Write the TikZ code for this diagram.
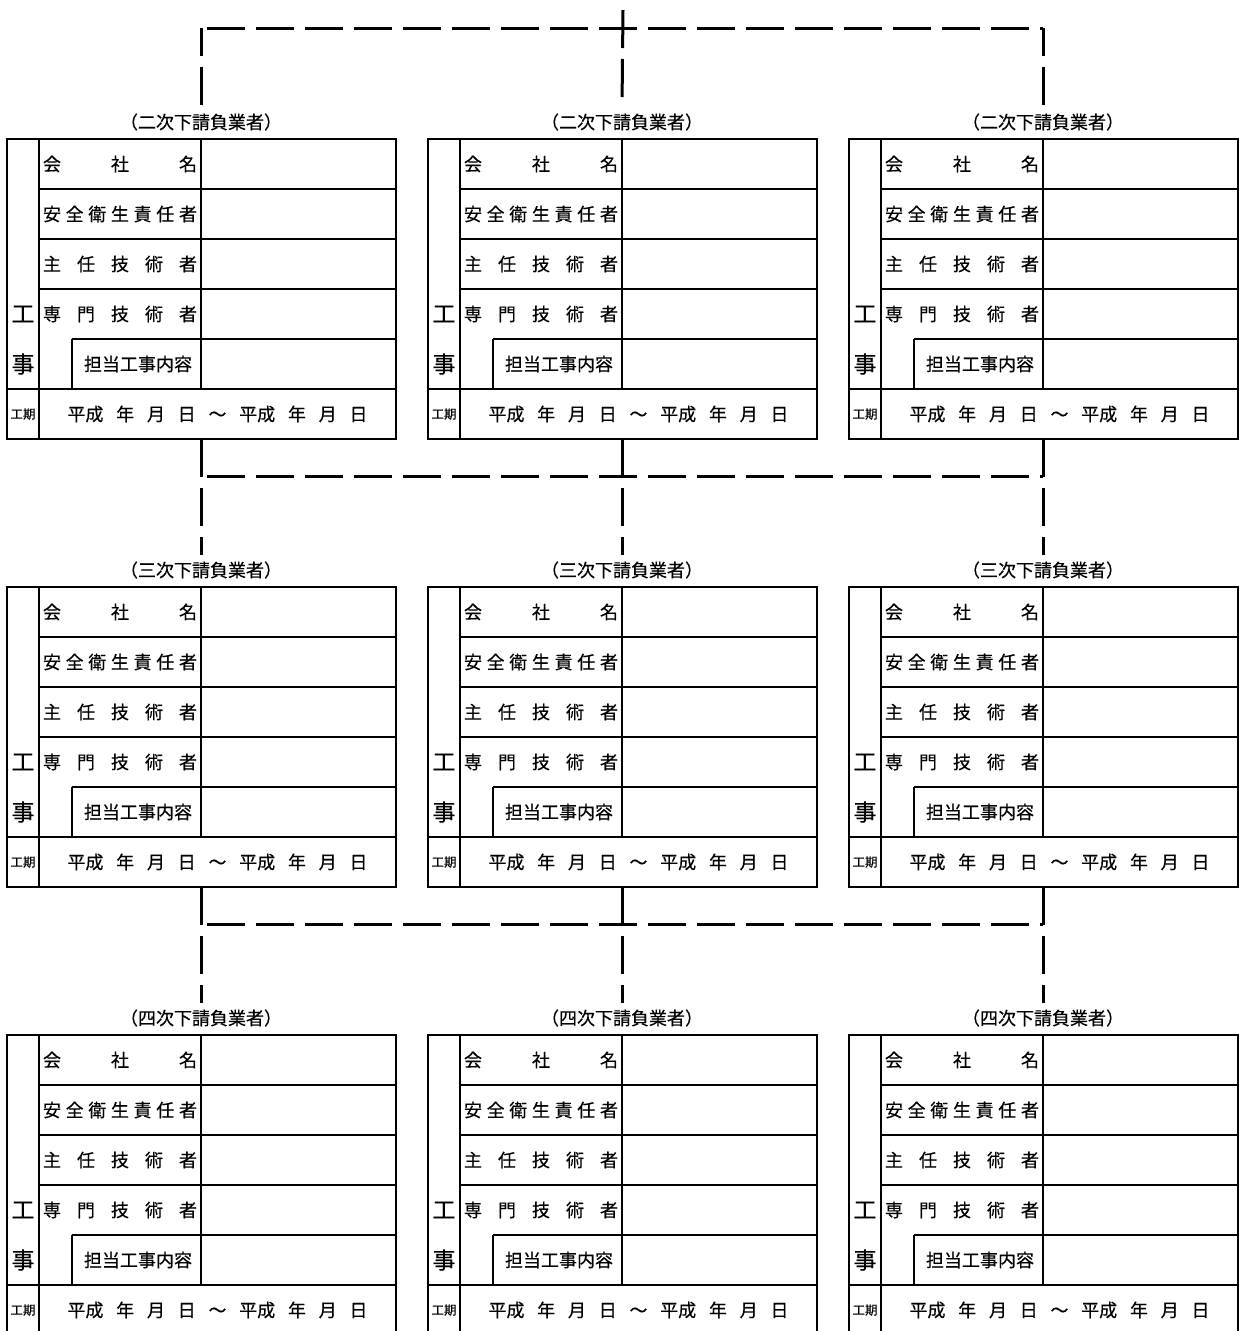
\documentclass[tikz,border=0pt]{standalone}
\usepackage{fontspec}
\setmainfont{Noto Sans CJK JP}[FakeBold=0.4]
\usetikzlibrary{positioning,calc}

\begin{document}
\begin{tikzpicture}[
        x=1pt, y=-1pt,
        frame/.style={line width=2pt},
        bus/.style={line width=3pt, dash pattern=on 38pt off 11pt},
        title/.style={font=\fontsize{18}{18}\selectfont, inner xsep=0pt, inner ysep=6pt},
        label/.style={font=\fontsize{18}{18}\selectfont, inner sep=0pt},
        side/.style={font=\fontsize{23}{23}\selectfont, inner sep=0pt},
        small/.style={font=\fontsize{12.5}{12.5}\selectfont, inner sep=0pt}
    ]
    \useasboundingbox (0,0) rectangle (1239,1331);

    % one sheet per subcontractor
    \foreach \lvl/\r in {二/0,三/1,四/2} {
        \foreach \c in {0,1,2} {
            \begin{scope}[shift={(7+421*\c,139+448*\r)}]
                \node[title] (t-\r-\c) at (194,-17) {（\lvl 次下請負業者）};
                \coordinate (b-\r-\c) at (194,-111);
                \coordinate (e-\r-\c) at (194,300);
                \draw[frame] (0,0) rectangle (389,300);
                \draw[frame] (32,0) -- (32,300);
                \draw[frame] (194,0) -- (194,250);
                \draw[frame] (65,200) -- (65,250);
                \foreach \yy in {50,100,150} \draw[frame] (32,\yy) -- (389,\yy);
                \draw[frame] (65,200) -- (389,200);
                \draw[frame] (0,250) -- (389,250);
                \node[label] (n1-\r-\c) at (113,25) {\makebox[154pt][s]{会 社 名}};
                \node[label] (n2-\r-\c) at (113,75) {\makebox[154pt][s]{安 全 衛 生 責 任 者}};
                \node[label] (n3-\r-\c) at (113,125) {\makebox[154pt][s]{主 任 技 術 者}};
                \node[label] (n4-\r-\c) at (113,175) {\makebox[154pt][s]{専 門 技 術 者}};
                \node[label] (n5-\r-\c) at (131,225) {担当工事内容};
                \node[side] (k1-\r-\c) at (16,175) {工};
                \node[side] (k2-\r-\c) at (16,225) {事};
                \node[small] (p-\r-\c) at (16,275) {工期};
                \node[label] (d-\r-\c) at (210.5,275) {\makebox[300pt][s]{平成 年 月 日 ～ 平成 年 月 日}};
            \end{scope}
        }
    }

    % connectors
    \coordinate (top) at (623,10);
    \draw[bus] (top) -- (t-0-1.north);
    \draw[bus, dash phase=10pt] (b-0-0) -- (t-0-0.north);
    \draw[bus, dash phase=10pt] (b-0-2) -- (t-0-2.north);
    \draw[bus, dash phase=43pt] (b-0-0) -- (b-0-2);
    \foreach \r/\q in {1/0,2/1} {
        \draw[bus, dash phase=43pt] (b-\r-0) -- (b-\r-2);
        \foreach \c in {0,1,2}
            \draw[bus] (e-\q-\c) -- (t-\r-\c.north);
    }
\end{tikzpicture}
\end{document}
